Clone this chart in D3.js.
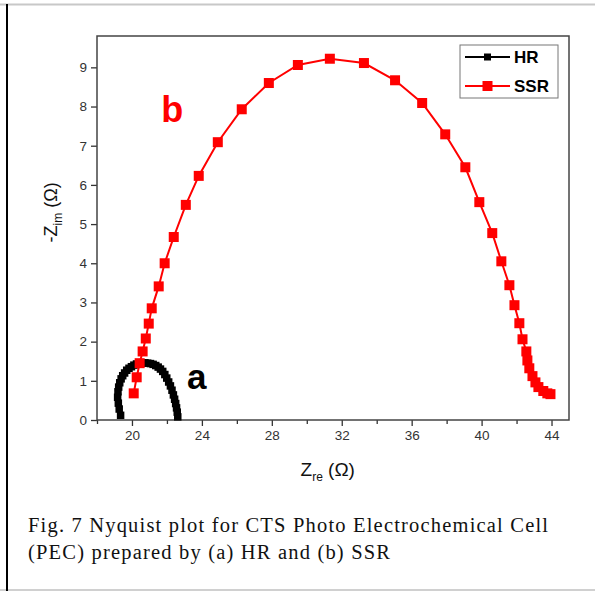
<!DOCTYPE html>
<html>
<head>
<meta charset="utf-8">
<script src="https://cdn.jsdelivr.net/npm/d3@7"></script>
<style>
  body { margin: 0; background: #fff; }
  svg { display: block; }
</style>
</head>
<body>
<div id="container"></div>
<script>
var hrRe = [19.35, 19.27, 19.22, 19.18, 19.2, 19.24, 19.3, 19.38, 19.47, 19.58, 19.7, 19.83, 19.97,
  20.11, 20.26, 20.42, 20.58, 20.74, 20.9, 21.06, 21.21, 21.36, 21.5, 21.63, 21.76, 21.88, 21.99,
  22.1, 22.2, 22.29, 22.37, 22.44, 22.5, 22.55, 22.59, 22.62];
var hrIm = [0.12, 0.28, 0.43, 0.58, 0.72, 0.84, 0.95, 1.05, 1.13, 1.2, 1.27, 1.32, 1.36,
  1.4, 1.43, 1.45, 1.46, 1.46, 1.45, 1.44, 1.42, 1.39, 1.35, 1.3, 1.24, 1.16, 1.07,
  0.97, 0.87, 0.76, 0.64, 0.53, 0.42, 0.31, 0.2, 0.08];

var ssrRe = [20.1, 20.27, 20.44, 20.61, 20.79, 20.96, 21.13, 21.53, 21.87, 22.39, 23.08, 23.82,
  24.91, 26.28, 27.83, 29.49, 31.32, 33.27, 35.05, 36.6, 37.92, 39.07, 39.87, 40.61, 41.13,
  41.59, 41.88, 42.16, 42.34, 42.56, 42.62, 42.73, 42.91, 43.08, 43.25, 43.53, 43.76, 43.94];
var ssrIm = [0.68, 1.09, 1.45, 1.75, 2.08, 2.46, 2.85, 3.41, 4.0, 4.67, 5.49, 6.23,
  7.09, 7.93, 8.6, 9.06, 9.22, 9.11, 8.67, 8.09, 7.29, 6.45, 5.56, 4.77, 4.05,
  3.44, 2.93, 2.47, 2.06, 1.75, 1.52, 1.32, 1.12, 0.96, 0.84, 0.74, 0.68, 0.66];

var xTicks = [20, 24, 28, 32, 36, 40, 44];
var xMinor = [18, 22, 26, 30, 34, 38, 42];
var yTicks = [0, 1, 2, 3, 4, 5, 6, 7, 8, 9];

var series = [
  { name: "HR", re: hrRe, im: hrIm, color: "#000", size: 7.5 },
  { name: "SSR", re: ssrRe, im: ssrIm, color: "#ff0000", size: 10 }
];

var W = 595, H = 592;
var margin = { top: 36, left: 97, right: 26, bottom: 172 },
  width = W - margin.left - margin.right,
  height = H - margin.top - margin.bottom;

var root = d3.select("#container").append("svg")
  .attr("width", W)
  .attr("height", H);

// Marco exterior
root.append("line").attr("x1", 0).attr("x2", W).attr("y1", 4.5).attr("y2", 4.5)
  .attr("stroke", "#c8c8c8").attr("stroke-width", 2);
root.append("line").attr("x1", 0).attr("x2", W).attr("y1", 590).attr("y2", 590)
  .attr("stroke", "#d0d0d0").attr("stroke-width", 2);
root.append("line").attr("x1", 7).attr("x2", 7).attr("y1", 4).attr("y2", 591)
  .attr("stroke", "#000").attr("stroke-width", 2);

var svg = root.append("g")
  .attr("transform", "translate(" + margin.left + "," + margin.top + ")");

// Escalas
var x = d3.scaleLinear().domain([18, 45]).range([0, width]);
var y = d3.scaleLinear().domain([0, 9.8]).range([height, 0]);

// Ejes
svg.append("g")
  .attr("transform", "translate(0," + height + ")")
  .call(d3.axisBottom(x).tickValues(xTicks).tickSize(6).tickPadding(4));
svg.append("g")
  .attr("transform", "translate(0," + height + ")")
  .call(d3.axisBottom(x).tickValues(xMinor).tickSize(4).tickFormat(""));
svg.append("g")
  .call(d3.axisLeft(y).tickValues(yTicks).tickSize(6).tickPadding(4));

svg.selectAll(".tick line").attr("stroke", "#333").attr("stroke-width", 1.3);
svg.selectAll(".domain").remove();
svg.selectAll(".tick text")
  .attr("fill", "#333")
  .attr("font-family", "Liberation Sans, Arial, sans-serif")
  .attr("font-size", 13.5);

// Caja del grafico
svg.append("rect")
  .attr("width", width).attr("height", height)
  .attr("fill", "none").attr("stroke", "#444").attr("stroke-width", 1.5);

// Curvas
var line = d3.line()
  .x(function(d) { return x(d[0]) })
  .y(function(d) { return y(d[1]) });

series.forEach(function(s) {
  var pts = s.re.map(function(v, i) { return [v, s.im[i]] });
  svg.append("path")
    .datum(pts)
    .attr("d", line)
    .attr("fill", "none")
    .attr("stroke", s.color)
    .attr("stroke-width", 2);
  svg.selectAll(".pt-" + s.name)
    .data(pts)
    .enter().append("rect")
    .attr("class", "pt-" + s.name)
    .attr("x", function(d) { return x(d[0]) - s.size / 2 })
    .attr("y", function(d) { return y(d[1]) - s.size / 2 })
    .attr("width", s.size)
    .attr("height", s.size)
    .attr("fill", s.color);
});

// Etiquetas a y b
svg.append("text").text("b")
  .attr("x", x(22.3)).attr("y", y(7.6))
  .attr("text-anchor", "middle")
  .attr("font-family", "Liberation Sans, Arial, sans-serif")
  .attr("font-weight", "bold").attr("font-size", 36)
  .attr("fill", "#ff0000");
svg.append("text").text("a")
  .attr("x", x(23.7)).attr("y", y(0.78))
  .attr("text-anchor", "middle")
  .attr("font-family", "Liberation Sans, Arial, sans-serif")
  .attr("font-weight", "bold").attr("font-size", 35)
  .attr("fill", "#000");

// Leyenda
var legend = svg.append("g").attr("transform", "translate(" + (width - 109) + ",9)");
legend.append("rect")
  .attr("width", 98).attr("height", 53)
  .attr("fill", "#fff").attr("stroke", "#777").attr("stroke-width", 1);
series.forEach(function(s, i) {
  var ly = 12 + i * 29;
  legend.append("line")
    .attr("x1", 5).attr("x2", 50).attr("y1", ly).attr("y2", ly)
    .attr("stroke", s.color).attr("stroke-width", 2);
  var ms = i == 0 ? 7 : 10;
  legend.append("rect")
    .attr("x", 27.5 - ms / 2).attr("y", ly - ms / 2)
    .attr("width", ms).attr("height", ms)
    .attr("fill", s.color);
  legend.append("text").text(s.name)
    .attr("x", 54).attr("y", ly + 6)
    .attr("font-family", "Liberation Sans, Arial, sans-serif")
    .attr("font-weight", "bold").attr("font-size", 17)
    .attr("fill", "#000");
});

// Titulos de ejes
var xl = svg.append("text")
  .attr("x", x(31.2)).attr("y", height + 56)
  .attr("text-anchor", "middle")
  .attr("font-family", "Liberation Sans, Arial, sans-serif")
  .attr("font-size", 19).attr("fill", "#111");
xl.append("tspan").text("Z");
xl.append("tspan").text("re").attr("font-size", 12).attr("dy", 5);
xl.append("tspan").text(" (Ω)").attr("dy", -5);

var yl = svg.append("text")
  .attr("transform", "translate(-40," + y(5.3) + ") rotate(-90)")
  .attr("text-anchor", "middle")
  .attr("font-family", "Liberation Sans, Arial, sans-serif")
  .attr("font-size", 18).attr("fill", "#111");
yl.append("tspan").text("-Z");
yl.append("tspan").text("im").attr("font-size", 12).attr("dy", 5);
yl.append("tspan").text(" (Ω)").attr("dy", -5);

// Pie de figura
var lines = ["Fig. 7 Nyquist plot for CTS Photo Electrochemical Cell",
  "(PEC) prepared by (a) HR and (b) SSR"];
var fs = 20.5;
var cap1 = root.append("text")
  .attr("x", 28).attr("y", 532)
  .attr("font-family", "Liberation Serif, serif")
  .attr("font-size", fs).attr("fill", "#111")
  .text(lines[0]);
var w1 = cap1.node().getComputedTextLength();
var ls = Math.max(0, (520 - w1) / (lines[0].length - 1));
cap1.attr("letter-spacing", ls);
root.append("text")
  .attr("x", 28).attr("y", 559)
  .attr("font-family", "Liberation Serif, serif")
  .attr("font-size", fs).attr("fill", "#111")
  .attr("letter-spacing", ls)
  .text(lines[1]);
</script>
</body>
</html>
